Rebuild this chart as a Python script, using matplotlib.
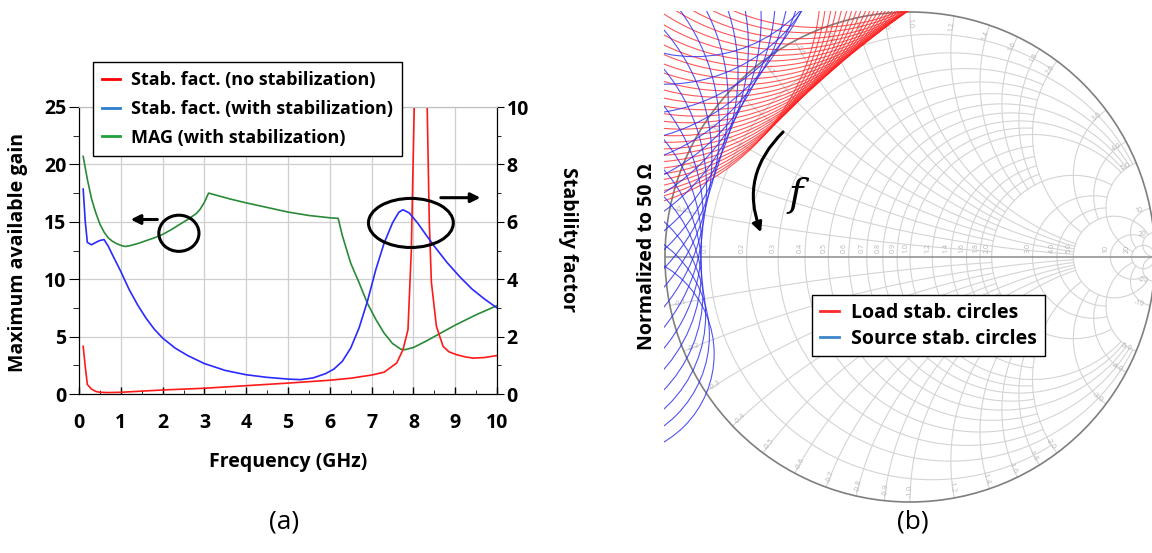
import numpy as np
import matplotlib
matplotlib.use("Agg")
import matplotlib.pyplot as plt
from matplotlib.patches import Circle, Ellipse, FancyArrowPatch
from matplotlib.lines import Line2D
from matplotlib.ticker import MultipleLocator

# ---------------- panel (a): gain / stability factor vs frequency ----------------
freq_mag = [0.1, 0.2, 0.3, 0.4, 0.5, 0.6, 0.7, 0.8, 0.9, 1.0, 1.1, 1.2, 1.4, 1.6, 1.8, 2.0,
            2.2, 2.4, 2.6, 2.8, 2.9, 3.0, 3.1, 3.3, 3.6, 4.0, 4.5, 5.0, 5.5, 6.0, 6.2,
            6.3, 6.5, 6.7, 6.9, 7.1, 7.3, 7.5, 7.7, 7.8, 8.0, 8.3, 8.6, 9.0, 9.5, 10.0]
mag = [20.7, 18.7, 17.0, 15.8, 14.8, 14.1, 13.6, 13.3, 13.1, 12.95, 12.85, 12.9, 13.1, 13.35, 13.6, 13.9,
       14.3, 14.75, 15.2, 15.7, 16.1, 16.7, 17.5, 17.3, 17.0, 16.65, 16.25, 15.85, 15.55, 15.35, 15.3,
       13.8, 11.4, 9.7, 7.9, 6.5, 5.3, 4.4, 3.9, 3.86, 4.05, 4.6, 5.2, 6.0, 6.9, 7.7]

freq_k = [0.1, 0.15, 0.2, 0.3, 0.4, 0.5, 0.6, 0.7, 0.8, 0.9, 1.0, 1.2, 1.4, 1.6, 1.8, 2.0, 2.3, 2.6,
          3.0, 3.5, 4.0, 4.5, 5.0, 5.3, 5.6, 5.9, 6.1, 6.3, 6.5, 6.7, 6.9, 7.1, 7.3, 7.5, 7.65,
          7.75, 7.9, 8.1, 8.3, 8.5, 8.8, 9.1, 9.4, 9.7, 10.0]
k_stab = [7.14, 6.0, 5.28, 5.2, 5.28, 5.35, 5.38, 5.15, 4.85, 4.56, 4.27, 3.64, 3.11, 2.65, 2.26, 1.95, 1.6, 1.34,
          1.06, 0.82, 0.67, 0.58, 0.52, 0.50, 0.56, 0.71, 0.87, 1.14, 1.6, 2.3, 3.23, 4.33, 5.26, 5.96, 6.33,
          6.42, 6.31, 5.96, 5.55, 5.15, 4.59, 4.1, 3.66, 3.31, 3.0]

freq_k0 = [0.1, 0.15, 0.2, 0.3, 0.4, 0.5, 0.7, 1.0, 1.5, 2.0, 3.0, 4.0, 5.0, 6.0, 6.5, 7.0, 7.3, 7.6,
           7.75, 7.87, 7.95, 8.02, 8.17, 8.33, 8.38, 8.43, 8.55, 8.71, 8.85, 9.03, 9.25, 9.43, 9.7, 10.0]
k_nostab = [1.66, 0.95, 0.33, 0.17, 0.09, 0.06, 0.05, 0.06, 0.1, 0.14, 0.2, 0.29, 0.38, 0.48, 0.55, 0.66, 0.76, 1.08,
            1.54, 2.24, 5.0, 10.0, 30.0, 10.0, 6.0, 3.9, 2.36, 1.66, 1.47, 1.37, 1.29, 1.25, 1.27, 1.34]

legend_a = ['Stab. fact. (no stabilization)', 'Stab. fact. (with stabilization)', 'MAG (with stabilization)']

# ---------------- panel (b): stability circles on the Smith chart ----------------
# load circles: centre (real, imag) and radius in the reflection-coefficient plane
load_u = [-1.287, -1.259, -1.230, -1.202, -1.173, -1.143, -1.114, -1.084, -1.055, -1.024,
          -0.994, -0.964, -0.933, -0.902, -0.871, -0.840, -0.808, -0.776, -0.744, -0.712,
          -0.680, -0.647, -0.614, -0.581, -0.549, -0.515, -0.481, -0.448, -0.414, -0.380]
load_v = [1.107, 1.135, 1.163, 1.191, 1.219, 1.246, 1.273, 1.300, 1.327, 1.353,
          1.379, 1.405, 1.431, 1.456, 1.481, 1.506, 1.531, 1.555, 1.580, 1.603,
          1.627, 1.650, 1.673, 1.696, 1.718, 1.740, 1.762, 1.783, 1.805, 1.826]
load_r = [0.922, 0.921, 0.920, 0.919, 0.918, 0.917, 0.916, 0.914, 0.913, 0.912,
          0.911, 0.910, 0.909, 0.908, 0.906, 0.905, 0.904, 0.903, 0.902, 0.901,
          0.900, 0.898, 0.897, 0.896, 0.895, 0.894, 0.893, 0.892, 0.890, 0.889]

# source circles: centre angle (deg), centre distance, closest approach to the origin
src_ang = [122, 126, 130, 134, 138, 142, 146, 150, 154, 158, 162, 166, 170, 174, 178, 182, 186, 190, 194, 198]
src_rho = [1.07, 1.03, 0.99, 0.96, 0.94, 0.92, 0.905, 0.89, 0.875, 0.865, 0.86, 0.858, 0.855, 0.853,
           0.852, 0.852, 0.853, 0.855, 0.858, 0.862]
src_d = [1.66, 1.70, 1.74, 1.76, 1.76, 1.75, 1.74, 1.72, 1.71, 1.69, 1.68, 1.66, 1.62, 1.57,
         1.52, 1.47, 1.42, 1.37, 1.32, 1.28]

grid_vals = [0.1, 0.2, 0.3, 0.4, 0.5, 0.6, 0.7, 0.8, 0.9, 1.0, 1.2, 1.4, 1.6, 1.8, 2.0, 3.0, 4.0, 5.0, 10.0, 20.0]
grid_lim = [2, 5, 2, 5, 2, 5, 2, 5, 2, 5, 2, 2, 2, 2, 5, 5, 5, 20, 20, 1e9]

legend_b = ['Load stab. circles', 'Source stab. circles']

plt.rcParams['font.family'] = ['Open Sans', 'DejaVu Sans']
plt.rcParams['font.weight'] = 'bold'

W, H = 1152, 553
fig = plt.figure(figsize=(W / 100, H / 100), dpi=100)


def px_box(x0, y0, x1, y1):
    return [x0 / W, 1 - y1 / H, (x1 - x0) / W, (y1 - y0) / H]


# ======== (a) ========
ax = fig.add_axes(px_box(79, 107, 497, 394))
ax2 = ax.twinx()

ax.plot(freq_mag, mag, color='#2a8a38', lw=1.2, zorder=3)
ax2.plot(freq_k0, k_nostab, color='#ff1a1a', lw=1.2)
ax2.plot(freq_k, k_stab, color='#2a2aff', lw=1.2)

ax.set_xlim(0, 10)
ax.set_ylim(0, 25)
ax2.set_ylim(0, 10)
ax.set_xticks(range(11))
ax.set_yticks([0, 5, 10, 15, 20, 25])
ax2.set_yticks([0, 2, 4, 6, 8, 10])
ax.xaxis.set_minor_locator(MultipleLocator(0.5))
ax.yaxis.set_minor_locator(MultipleLocator(2.5))
ax2.yaxis.set_minor_locator(MultipleLocator(1))
ax.grid(True, which='major', color='#cfcfcf', lw=0.9)
ax.set_axisbelow(True)

ax.tick_params(axis='x', which='major', direction='in', length=5, width=1, pad=14, labelsize=14)
ax.tick_params(axis='x', which='minor', direction='in', length=3)
ax.tick_params(axis='y', which='major', direction='out', length=7, pad=2, labelsize=14)
ax.tick_params(axis='y', which='minor', direction='out', length=4)
ax2.tick_params(axis='y', which='major', direction='out', length=5, pad=2, labelsize=14)
ax2.tick_params(axis='y', which='minor', direction='out', length=3)
for a in (ax, ax2):
    a.spines['top'].set_color('#c0c0c0')

# annotations (drawn in stability-factor units on the right axis)
ax2.add_patch(Ellipse((2.39, 5.6), 0.96, 1.26, fill=False, ec='black', lw=2.2, zorder=5))
ax2.add_patch(Ellipse((7.94, 5.96), 2.03, 1.71, fill=False, ec='black', lw=2.2, zorder=5))
ax2.annotate('', xy=(1.17, 6.08), xytext=(1.94, 6.08),
             arrowprops=dict(arrowstyle='-|>', lw=2.2, color='black', mutation_scale=14))
ax2.annotate('', xy=(9.67, 6.84), xytext=(8.59, 6.84),
             arrowprops=dict(arrowstyle='-|>', lw=2.2, color='black', mutation_scale=14))

fig.text(18 / W, 1 - 252 / H, 'Maximum available gain', rotation=90, ha='center', va='center', fontsize=14)
fig.text(288 / W, 1 - 462 / H, 'Frequency (GHz)', ha='center', va='center', fontsize=14)
fig.text(568 / W, 1 - 240 / H, 'Stability factor', rotation=-90, ha='center', va='center', fontsize=14)

handles_a = [Line2D([], [], color='#ff0000', lw=2),
             Line2D([], [], color='#2e7bd0', lw=2),
             Line2D([], [], color='#1fa03c', lw=2)]
leg_a = fig.legend(handles_a, legend_a, loc='upper left', bbox_to_anchor=(93 / W, 1 - 62 / H),
                   borderaxespad=0, fontsize=13, frameon=True, fancybox=False, edgecolor='black',
                   framealpha=1, handlelength=1.0, handletextpad=0.6, labelspacing=0.6,
                   borderpad=0.5)
leg_a.get_frame().set_linewidth(1.0)

fig.text(284 / W, 1 - 522 / H, '(a)', ha='center', va='center', fontsize=19, fontweight='normal')

# ======== (b) ========
half = 246
axs = fig.add_axes(px_box(910 - half, 257 - half, 910 + half, 257 + half))
lim = half / 245
axs.set_xlim(-lim, lim)
axs.set_ylim(-lim, lim)
axs.set_aspect('equal')
axs.axis('off')


def zmap(r, x):
    z = r + 1j * x
    return (z - 1) / (z + 1)


grid_kw = dict(color='#d4d4d4', lw=0.8, zorder=1)
for v, m in zip(grid_vals, grid_lim):
    th = np.linspace(-np.arctan(m), np.arctan(m), 500)
    g = zmap(v, np.tan(th))
    axs.plot(g.real, g.imag, **grid_kw)
    th = np.linspace(0, np.arctan(m), 400)
    for s in (1, -1):
        g = zmap(np.tan(th), s * v)
        axs.plot(g.real, g.imag, **grid_kw)

axs.add_patch(Circle((0, 0), 1.0, fill=False, ec='#7f7f7f', lw=1.2, zorder=2))
axs.plot([-1, 1], [0, 0], color='#8c8c8c', lw=1.1, zorder=2)

lab_kw = dict(fontsize=5, color='#b4b4b4', fontweight='normal', zorder=2)
for v in grid_vals:
    txt = f'{v:.1f}' if v < 10 else f'{int(v)}'
    gx = zmap(v, 0).real
    axs.text(gx - 0.004, 0.015, txt, rotation=90, ha='left', va='bottom', rotation_mode='anchor', **lab_kw)
    for s in (1, -1):
        g = zmap(0, s * v)
        ang = np.degrees(np.angle(g))
        rot = ang + 180
        rot = (rot + 180) % 360 - 180
        if rot > 90:
            rot -= 180
        elif rot < -90:
            rot += 180
        p = 0.955 * g
        lbl = txt if s > 0 else '-' + txt
        axs.text(p.real, p.imag, lbl, rotation=rot, ha='center', va='center',
                 rotation_mode='anchor', **lab_kw)

for cu, cv, r in zip(load_u, load_v, load_r):
    axs.add_patch(Circle((cu, cv), r, fill=False, ec='#ff2020', lw=0.8, alpha=0.75, zorder=3))
for a, rho, d in zip(src_ang, src_rho, src_d):
    t = np.radians(a)
    axs.add_patch(Circle((d * np.cos(t), d * np.sin(t)), d - rho, fill=False,
                         ec='#2828f0', lw=0.8, alpha=0.8, zorder=3))

# frequency arrow
arr = FancyArrowPatch((-0.510, 0.518), (-0.604, 0.090), connectionstyle='arc3,rad=0.34',
                      arrowstyle='-|>', mutation_scale=14, lw=2.2, color='black', zorder=6)
axs.add_patch(arr)
axs.text(-0.469, 0.253, 'f', fontsize=28, fontstyle='italic', fontweight='normal',
         family=['DejaVu Serif'], ha='center', va='center', zorder=6)

handles_b = [Line2D([], [], color='#ff2a2a', lw=2), Line2D([], [], color='#3a86c8', lw=2)]
leg_b = fig.legend(handles_b, legend_b, loc='upper left', bbox_to_anchor=(812 / W, 1 - 295 / H),
                   borderaxespad=0, fontsize=14, frameon=True, fancybox=False, edgecolor='black',
                   framealpha=1, handlelength=1.0, handletextpad=0.6, labelspacing=0.3,
                   borderpad=0.4)
leg_b.get_frame().set_linewidth(1.0)

fig.text(647 / W, 1 - 257 / H, 'Normalized to 50 Ω', rotation=90, ha='center', va='center', fontsize=14)
fig.text(913 / W, 1 - 522 / H, '(b)', ha='center', va='center', fontsize=19, fontweight='normal')

fig.savefig('out.png', dpi=100)
